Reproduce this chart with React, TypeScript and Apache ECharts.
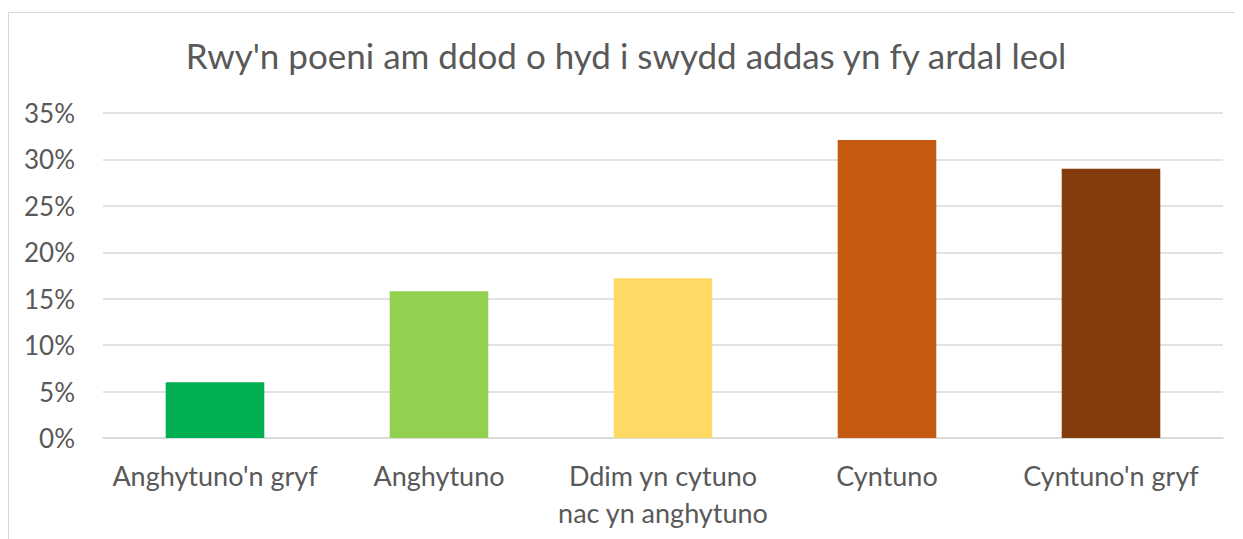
import React, { useEffect, useRef } from "react";
import * as echarts from "echarts";

const categories = [
  "Anghytuno'n gryf",
  "Anghytuno",
  "Ddim yn cytuno\nnac yn anghytuno",
  "Cyntuno",
  "Cyntuno'n gryf",
];
const values = [6.0, 15.8, 17.2, 32.1, 29.0];
const colors = ["#00B050", "#92D050", "#FFD966", "#C55A11", "#843C0C"];
const title = "Rwy'n poeni am ddod o hyd i swydd addas yn fy ardal leol";

const FONT = "Lato, 'Open Sans', sans-serif";

export default function App() {
  const ref = useRef<HTMLDivElement>(null);
  useEffect(() => {
    if (!ref.current) return;
    const chart = echarts.init(ref.current, undefined, { renderer: "svg" });
    chart.setOption({
      animation: false,
      title: {
        text: title,
        left: "center",
        top: 19,
        textStyle: { fontFamily: FONT, fontSize: 35, fontWeight: "normal", color: "#595959" },
      },
      grid: { left: 94, right: 20, top: 100, bottom: 101, containLabel: false },
      xAxis: {
        type: "category",
        data: categories,
        axisLine: { lineStyle: { color: "#d9d9d9", width: 1.5 } },
        axisTick: { show: false },
        axisLabel: {
          fontFamily: FONT,
          fontSize: 27,
          color: "#595959",
          margin: 19,
          lineHeight: 37,
          interval: 0,
        },
      },
      yAxis: {
        type: "value",
        min: 0,
        max: 35,
        interval: 5,
        axisLine: { show: false },
        axisTick: { show: false },
        splitLine: { lineStyle: { color: "#d9d9d9", width: 1.5 } },
        axisLabel: {
          fontFamily: FONT,
          fontSize: 26,
          color: "#595959",
          margin: 28,
          formatter: (v: number) => v + "%",
        },
      },
      series: [
        {
          type: "bar",
          barWidth: "44%",
          data: values.map((v, i) => ({ value: v, itemStyle: { color: colors[i] } })),
        },
      ],
    });
    return () => chart.dispose();
  }, []);
  return (
    <div style={{ paddingTop: 4 }}>
      <div
        style={{
          width: 1234,
          height: 526,
          borderLeft: "1px solid #d9d9d9",
          borderTop: "1px solid #d9d9d9",
        }}
      >
        <div ref={ref} style={{ width: 1234, height: 526 }} />
      </div>
    </div>
  );
}
